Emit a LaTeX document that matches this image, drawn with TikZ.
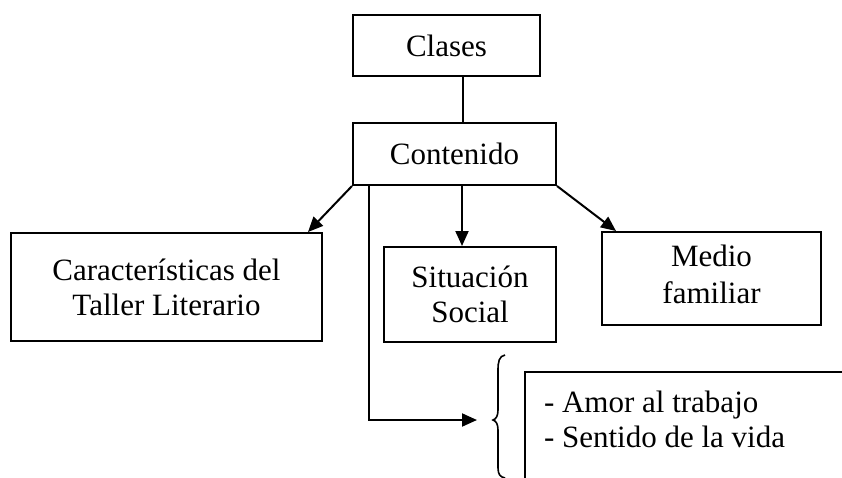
\documentclass[tikz,border=0pt]{standalone}
\usepackage{fontspec}
\setmainfont{Liberation Serif}
\usetikzlibrary{arrows.meta}
\begin{document}
\begin{tikzpicture}[x=1pt,y=-1pt,line width=2pt,
  every node/.style={font=\fontsize{31}{35}\selectfont, inner sep=0pt},
  box/.style={draw, align=center},
  conn/.style={-{Triangle[length=15pt,width=13pt]}}]
\useasboundingbox (0,0) rectangle (842,477);
\node[box, minimum width=187pt, minimum height=61pt] (clases) at (446.5,45.5) {Clases};
\node[box, minimum width=203pt, minimum height=62pt] (cont) at (454.5,154) {Contenido};
\node[box, minimum width=311pt, minimum height=108pt] (taller) at (166.5,287) {Características del\\Taller Literario};
\node[box, minimum width=172pt, minimum height=95pt] (sit) at (470,294.5) {Situación\\Social};
\node[box, minimum width=219pt, minimum height=93pt, text depth=8pt] (medio) at (711.5,278.5) {Medio\\[2pt]familiar};
\node[anchor=base west, align=left] (val) at (543,447) {- Amor al trabajo\\- Sentido de la vida};
\coordinate (valbox) at (525,372);
\coordinate (brace) at (493,420);
% connectors
\draw ([xshift=16.5pt]clases.south) -- ([xshift=8.5pt]cont.north);
\draw[conn] (cont.south west) -- ([xshift=-15pt]taller.north east);
\draw[conn] (cont.south east) -- ([xshift=15pt]medio.north west);
\draw[conn] ([xshift=7.5pt]cont.south) -- ([xshift=-8pt]sit.north);
\draw[conn] ([xshift=-85.5pt]cont.south) |- ([xshift=-16pt]brace);
% brace
\draw[line width=1.6pt] (505,355) .. controls (499,356) and (498,362) .. (498,370)
  -- (498,410) .. controls (498,416) and (496,419) .. (brace)
  .. controls (496,421) and (498,424) .. (498,430)
  -- (498,468) .. controls (498,474) and (500,477) .. (505,478);
% partial box
\draw (valbox |- 0,479) -- (valbox) -- (844,372);
\end{tikzpicture}
\end{document}
